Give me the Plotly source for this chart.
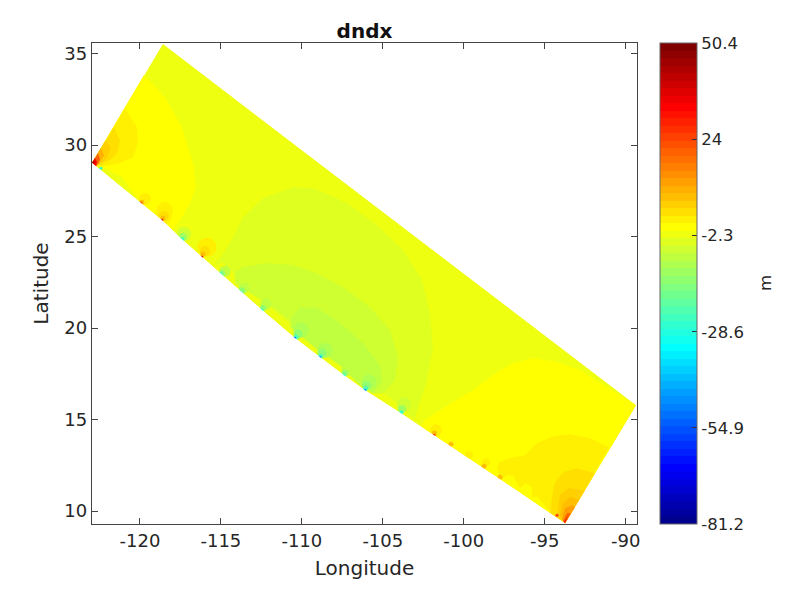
import plotly.graph_objects as go

# colour scale limits and ticks
c_min, c_max = -81.2, 50.4
cbar_ticks = [-81.2, -54.9, -28.6, -2.3, 24, 50.4]
cbar_labels = ["-81.2", "-54.9", "-28.6", "-2.3", "24", "50.4"]
lon_ticks = [-120, -115, -110, -105, -100, -95, -90]
lat_ticks = [10, 15, 20, 25, 30, 35]

# domain outline (lon / lat); the coast runs from the left corner to the bottom corner
coast_lon = [-122.96, -119.94, -118.64, -117.41, -116.17, -115.0, -113.76, -112.46, -110.43, -108.88, -107.40, -106.10, -103.88, -101.84, -97.76, -93.75]
coast_lat = [29.02, 26.83, 25.90, 24.86, 23.88, 22.95, 21.96, 20.98, 19.45, 18.41, 17.42, 16.60, 15.35, 14.14, 11.74, 9.33]
outer_lon = [-89.36, -118.58]
outer_lat = [15.78, 35.52]

# contour band outlines: level value (m), longitudes, latitudes
nw_yellow_lon = [-119.75, -118.46, -117.41, -116.73, -116.54, -116.91, -117.41, -117.96, -118.64, -119.94, -120.43, -121.11, -122.35, -122.96]
nw_yellow_lat = [33.83, 32.62, 30.98, 29.02, 27.70, 26.83, 26.06, 25.35, 25.90, 26.83, 27.38, 28.25, 28.80, 29.02]
nw41_lon = [-120.93, -120.19, -120.12, -120.43, -121.36, -122.29, -122.96]
nw41_lat = [32.02, 30.98, 30.11, 29.34, 28.96, 28.85, 29.02]
nw42_lon = [-121.61, -121.24, -121.36, -121.85, -122.47, -122.96]
nw42_lat = [30.98, 30.27, 29.62, 29.18, 28.91, 29.02]
nw43_lon = [-122.12, -121.79, -122.04, -122.53, -122.96]
nw43_lat = [30.27, 29.84, 29.29, 28.91, 29.02]
nw45_lon = [-122.41, -122.22, -122.53, -122.96]
nw45_lat = [29.84, 29.45, 28.96, 29.02]
nw50_lon = [-122.59, -122.47, -122.66, -122.96]
nw50_lat = [29.56, 29.23, 28.85, 29.02]
nw56_lon = [-122.78, -122.66, -122.72, -122.96]
nw56_lat = [29.29, 29.07, 28.85, 29.02]
nw62_lon = [-122.87, -122.78, -122.96]
nw62_lat = [29.16, 29.02, 29.02]

mid38_lon = [-115.37, -114.44, -113.64, -112.40, -110.55, -109.31, -107.21, -105.36, -103.75, -102.58, -102.09, -101.90, -102.27, -103.07, -103.75, -105.67, -106.90, -108.57, -110.12, -112.09, -113.51, -114.93]
mid38_lat = [23.44, 24.64, 26.06, 27.10, 27.70, 27.65, 26.83, 25.63, 24.26, 22.62, 20.82, 18.96, 17.15, 14.97, 15.68, 16.88, 17.70, 18.79, 19.78, 21.25, 22.40, 23.60]
mid37_lon = [-114.13, -113.70, -112.16, -110.55, -109.07, -107.46, -105.79, -104.56, -104.06, -104.25, -104.99, -105.61, -106.72, -107.65, -108.88, -110.12, -111.97, -113.21, -114.13]
mid37_lat = [23.06, 23.33, 23.55, 23.44, 23.0, 22.24, 21.14, 19.89, 18.41, 17.15, 16.44, 16.44, 17.32, 18.25, 19.07, 20.0, 21.25, 21.91, 22.46]
mid36_lon = [-110.73, -110.61, -110.12, -109.07, -107.65, -106.23, -105.18, -105.05, -105.61, -106.41, -107.65, -109.0, -110.12]
mid36_lat = [20.05, 20.60, 21.14, 21.09, 20.27, 19.18, 17.97, 16.99, 16.44, 16.88, 17.97, 18.79, 19.61]

se_yellow_lon = [-89.36, -91.15, -92.82, -94.24, -95.72, -96.96, -98.20, -99.43, -101.28, -102.40, -102.70, -101.84, -97.76, -93.75]
se_yellow_lat = [15.78, 16.77, 17.70, 18.14, 18.36, 18.08, 17.43, 16.61, 15.62, 14.97, 14.53, 14.14, 11.74, 9.33]
se41_lon = [-97.76, -97.95, -97.82, -96.96, -96.22, -95.48, -94.49, -93.44, -92.20, -91.03, -93.75, -94.86, -95.42, -95.79, -95.79, -96.22, -96.53, -96.96, -97.33]
se41_lat = [11.69, 12.40, 12.67, 12.94, 13.05, 13.71, 14.09, 14.20, 13.98, 13.49, 9.33, 10.15, 10.76, 10.76, 11.30, 11.52, 11.25, 11.96, 11.96]
se42_lon = [-94.67, -94.55, -94.37, -93.87, -93.01, -91.89, -93.75]
se42_lat = [9.88, 10.76, 11.52, 12.12, 12.34, 12.07, 9.33]
se43_lon = [-94.24, -94.06, -93.56, -92.51, -93.75]
se43_lat = [9.66, 10.87, 11.25, 11.14, 9.33]
se44_lon = [-94.06, -93.87, -93.44, -92.88, -93.75]
se44_lat = [9.77, 10.43, 10.76, 10.59, 9.33]
se46_lon = [-93.93, -93.75, -93.32, -93.13, -93.75]
se46_lat = [9.55, 10.15, 10.32, 10.20, 9.33]
se50_lon = [-93.87, -93.62, -93.38, -93.75]
se50_lat = [9.44, 9.88, 9.88, 9.33]
se56_lon = [-93.81, -93.62, -93.56, -93.75]
se56_lat = [9.39, 9.61, 9.72, 9.33]

# band level values, in metres
base_level = -2.3
bands = [
    (-0.1, nw_yellow_lon, nw_yellow_lat), (2.0, nw41_lon, nw41_lat), (4.0, nw42_lon, nw42_lat),
    (6.0, nw43_lon, nw43_lat), (10.2, nw45_lon, nw45_lat), (20.4, nw50_lon, nw50_lat),
    (32.8, nw56_lon, nw56_lat), (45.0, nw62_lon, nw62_lat),
    (-4.2, mid38_lon, mid38_lat), (-6.3, mid37_lon, mid37_lat), (-8.3, mid36_lon, mid36_lat),
    (-0.1, se_yellow_lon, se_yellow_lat), (2.0, se41_lon, se41_lat), (4.0, se42_lon, se42_lat),
    (6.0, se43_lon, se43_lat), (8.1, se44_lon, se44_lat), (12.2, se46_lon, se46_lat),
    (20.4, se50_lon, se50_lat), (32.8, se56_lon, se56_lat),
]

# coastal extrema: nested rings, (level value, lons, lats, drawn diameter)
big_a_lon = [-110.05, -108.57, -105.85]
big_a_lat = [19.89, 18.79, 17.05]
big_b_lon = [-110.24, -108.76, -106.0]
big_b_lat = [19.67, 18.63, 16.85]
big_c_lon = [-110.36, -108.85, -106.07]
big_c_lat = [19.50, 18.46, 16.69]
deep_lon = [-110.43, -108.88, -106.10]
deep_lat = [19.45, 18.41, 16.60]
edge_a_lon = [-103.69, -117.28]
edge_a_lat = [15.84, 25.13]
edge_b_lon = [-103.82, -117.34]
edge_b_lat = [15.57, 24.97]
edge_c_lon = [-103.85, -117.39]
edge_c_lat = [15.40, 24.86]
small_a_lon = [-114.75, -113.58, -112.22, -107.21]
small_a_lat = [23.11, 22.18, 21.31, 17.70]
small_b_lon = [-114.93, -113.70, -112.40, -107.34]
small_b_lat = [23.0, 22.07, 21.09, 17.54]
small_c_lon = [-115.0, -113.76, -112.46, -107.40, -122.41]
small_c_lat = [22.95, 21.96, 20.98, 17.42, 28.74]
hot_a_lon = [-115.86]
hot_a_lat = [24.42]
hot_b_lon = [-118.46, -118.52]
hot_b_lat = [26.45, 26.12]
hot_c_lon = [-119.69, -101.72]
hot_c_lat = [27.05, 14.42]
hot_d_lon = [-99.68, -98.63]
hot_d_lat = [13.05, 12.67]
hot_e_lon = [-115.98, -118.52]
hot_e_lat = [24.20, 26.12]
hot_f_lon = [-116.11, -118.58, -119.88, -101.81, -98.75, -97.76, -100.79]
hot_f_lat = [24.04, 26.01, 26.88, 14.26, 12.45, 11.85, 13.65]
hot_g_lon = [-119.94, -118.64, -116.17, -101.84, -94.24]
hot_g_lat = [26.83, 25.90, 23.88, 14.14, 9.77]
hot_h_lon = [-118.64, -116.17]
hot_h_lat = [25.90, 23.88]

rings = [
    (-10.4, big_a_lon, big_a_lat, 15), (-14.5, big_b_lon, big_b_lat, 9), (-22.6, big_c_lon, big_c_lat, 5),
    (-35.0, deep_lon, deep_lat, 3), (-60.0, deep_lon, deep_lat, 2),
    (-7.0, edge_a_lon, edge_a_lat, 14), (-13.0, edge_b_lon, edge_b_lat, 8), (-24.0, edge_c_lon, edge_c_lat, 4),
    (-8.3, small_a_lon, small_a_lat, 11), (-14.5, small_b_lon, small_b_lat, 6), (-26.7, small_c_lon, small_c_lat, 3),
    (2.0, hot_a_lon, hot_a_lat, 19), (2.0, hot_b_lon, hot_b_lat, 16), (2.0, hot_c_lon, hot_c_lat, 12),
    (2.0, hot_d_lon, hot_d_lat, 8), (4.0, hot_e_lon, hot_e_lat, 10), (8.0, hot_f_lon, hot_f_lat, 5),
    (25.0, hot_g_lon, hot_g_lat, 3), (41.0, hot_h_lon, hot_h_lat, 1.8),
]


def jet(row):
    # MATLAB jet(64), row 1..64
    r = min(max(min(row - 24, 72 - row) / 16, 0), 1)
    g = min(max(min(row - 8, 56 - row) / 16, 0), 1)
    b = min(max(min(row + 8, 40 - row) / 16, 0), 1)
    return f"rgb({round(r * 255)},{round(g * 255)},{round(b * 255)})"


def level_color(v):
    row = int((v - c_min) / (c_max - c_min) * 64) + 1
    return jet(min(max(row, 1), 64))


stops = []
for i in range(64):
    stops += [[i / 64, jet(i + 1)], [(i + 1) / 64, jet(i + 1)]]

fig = go.Figure()


def add_poly(lons, lats, color):
    fig.add_trace(go.Scatter(x=lons + lons[:1], y=lats + lats[:1], mode="lines", fill="toself",
                             fillcolor=color, line=dict(width=0, color=color),
                             hoverinfo="skip", showlegend=False))


add_poly(coast_lon + outer_lon, coast_lat + outer_lat, level_color(base_level))
for level, lons, lats in bands:
    add_poly(lons, lats, level_color(level))
for level, lons, lats, size in rings:
    fig.add_trace(go.Scatter(x=lons, y=lats, mode="markers",
                             marker=dict(size=size, color=level_color(level), line=dict(width=0)),
                             hoverinfo="skip", showlegend=False))

# white area seaward of the coast (rings stop at the domain edge)
add_poly(coast_lon + [-93.75, -124.0, -124.0], coast_lat + [8.0, 8.0, 29.02], "white")

# colour bar
fig.add_trace(go.Scatter(
    x=[None], y=[None], mode="markers", hoverinfo="skip", showlegend=False,
    marker=dict(color=[c_min], cmin=c_min, cmax=c_max, colorscale=stops, showscale=True,
                colorbar=dict(x=1.0415, xanchor="left", xref="paper", y=0.5, yanchor="middle",
                              len=1, lenmode="fraction", thickness=37, thicknessmode="pixels",
                              outlinewidth=1, outlinecolor="#666", ticks="inside", ticklen=5,
                              tickcolor="#333", tickmode="array", tickvals=cbar_ticks,
                              ticktext=cbar_labels, tickfont=dict(size=16.5, color="#262626"),
                              ypad=0, xpad=0))))

axis_style = dict(showgrid=False, zeroline=False, showline=True, linecolor="#444", linewidth=1.3,
                  mirror="ticks", ticks="inside", ticklen=6, tickcolor="#444", tickwidth=1.3,
                  tickfont=dict(size=18, color="#262626"), title_font=dict(size=20, color="#262626"))

fig.update_layout(
    width=791, height=581, margin=dict(l=84, r=162, t=35, b=65),
    paper_bgcolor="white", plot_bgcolor="white",
    font=dict(family="DejaVu Sans", color="#262626"),
    title=dict(text="<b>dndx</b>", x=356.5 / 791, xanchor="center", y=1 - 23 / 581, yanchor="middle",
               font=dict(size=20, color="#111")),
    xaxis=dict(range=[-122.96, -89.3], tickmode="array", tickvals=lon_ticks,
               ticktext=[str(v) for v in lon_ticks], title=dict(text="Longitude", standoff=11), **axis_style),
    yaxis=dict(range=[9.29, 35.58], tickmode="array", tickvals=lat_ticks,
               ticktext=[str(v) for v in lat_ticks], title=dict(text="Latitude", standoff=10), **axis_style),
    annotations=[dict(text="m", textangle=-90, xref="paper", yref="paper",
                      x=(765 - 92) / 545, y=(524 - 283) / 481, showarrow=False,
                      xanchor="center", yanchor="middle", font=dict(size=16.5, color="#262626"))],
)

fig.write_html("out.html")
